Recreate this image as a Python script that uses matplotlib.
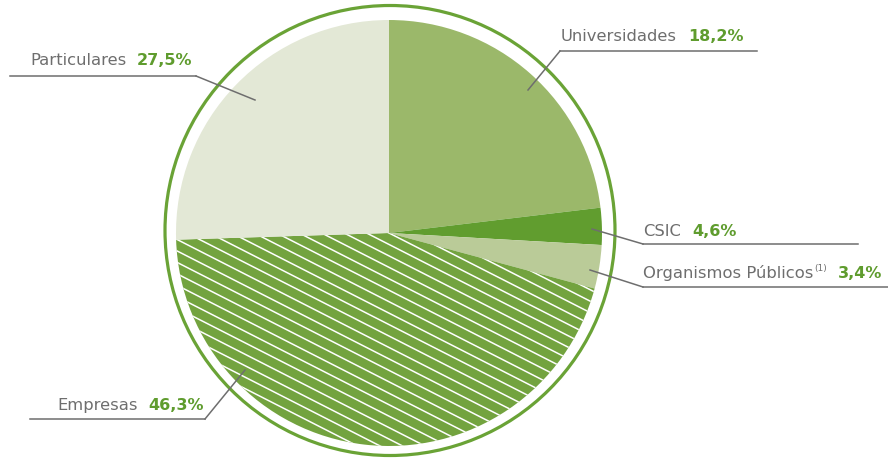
import matplotlib.pyplot as plt
import numpy as np

# values printed on the chart
labels = ["Universidades", "CSIC", "Organismos Públicos", "Empresas", "Particulares"]
pct_labels = ["18,2%", "4,6%", "3,4%", "46,3%", "27,5%"]
# wedge sizes as drawn in the picture (%), clockwise from 12 o'clock
drawn_share = [23.1, 2.8, 3.3, 45.3, 25.5]

colors = ["#9bb86a", "#619d2f", "#bacb98", "#73a33f", "#e3e8d6"]
GRAY = "#6e6e6e"
GREEN = "#5f9c2e"

W, H = 888, 461
fig = plt.figure(figsize=(W / 100, H / 100), dpi=100)
ax = fig.add_axes([0, 0, 1, 1])

cx, cy, r = 389, H - 233, 213
wedges, _ = ax.pie(drawn_share, colors=colors, startangle=90, counterclock=False,
                   center=(cx, cy), radius=r, wedgeprops=dict(linewidth=0))
ax.set_xlim(0, W)
ax.set_ylim(0, H)
ax.set_aspect("equal")
ax.axis("off")

# white diagonal stripes on Empresas
emp = wedges[3]
ang = np.deg2rad(-27)
d = np.array([np.cos(ang), np.sin(ang)])
nrm = np.array([-d[1], d[0]])
for k in np.arange(-40, 40):
    p0 = np.array([cx, cy]) + nrm * k * 10.2
    seg = np.array([p0 - d * 500, p0 + d * 500])
    ln, = ax.plot(seg[:, 0], seg[:, 1], color="white", lw=1.1, solid_capstyle="butt")
    ln.set_clip_path(emp)

ring = plt.Circle((390, H - 230.5), 225, fill=False, ec="#6aa336", lw=2.3)
ax.add_patch(ring)

# label layout (pixel coords from top-left): text x, text y, underline [x0, x1, y], leader end
layout = [
    (561, 37, (560, 757, 51), (528, 90), "left"),
    (643, 232, (643, 858, 244), (592, 229), "left"),
    (643, 273, (643, 888, 287), (590, 270), "left"),
    (57, 405, (30, 205, 419), (245, 370), "right"),
    (30, 61, (10, 196, 76), (255, 100), "right"),
]

fig.canvas.draw()
rend = fig.canvas.get_renderer()
inv = ax.transData.inverted()
for name, pct, (tx, ty, (u0, u1, uy), (ex, ey), side) in zip(labels, pct_labels, layout):
    t = ax.text(tx, H - ty, name, fontsize=11.8, color=GRAY, family="DejaVu Sans",
                va="center", ha="left")
    xe = inv.transform(t.get_window_extent(rend))[1, 0]
    if name == "Organismos Públicos":
        s = ax.text(xe + 1, H - ty + 5, "(1)", fontsize=6.5, color=GRAY,
                    family="DejaVu Sans", va="center", ha="left")
        xe = inv.transform(s.get_window_extent(rend))[1, 0]
    ax.text(xe + 11, H - ty, pct, fontsize=11.5, color=GREEN, family="DejaVu Sans",
            weight="bold", va="center", ha="left")
    knee = u0 if side == "left" else u1
    ax.plot([u0, u1], [H - uy, H - uy], color=GRAY, lw=1.1)
    ax.plot([knee, ex], [H - uy, H - ey], color=GRAY, lw=1.1)

fig.savefig("out.png", dpi=100)
